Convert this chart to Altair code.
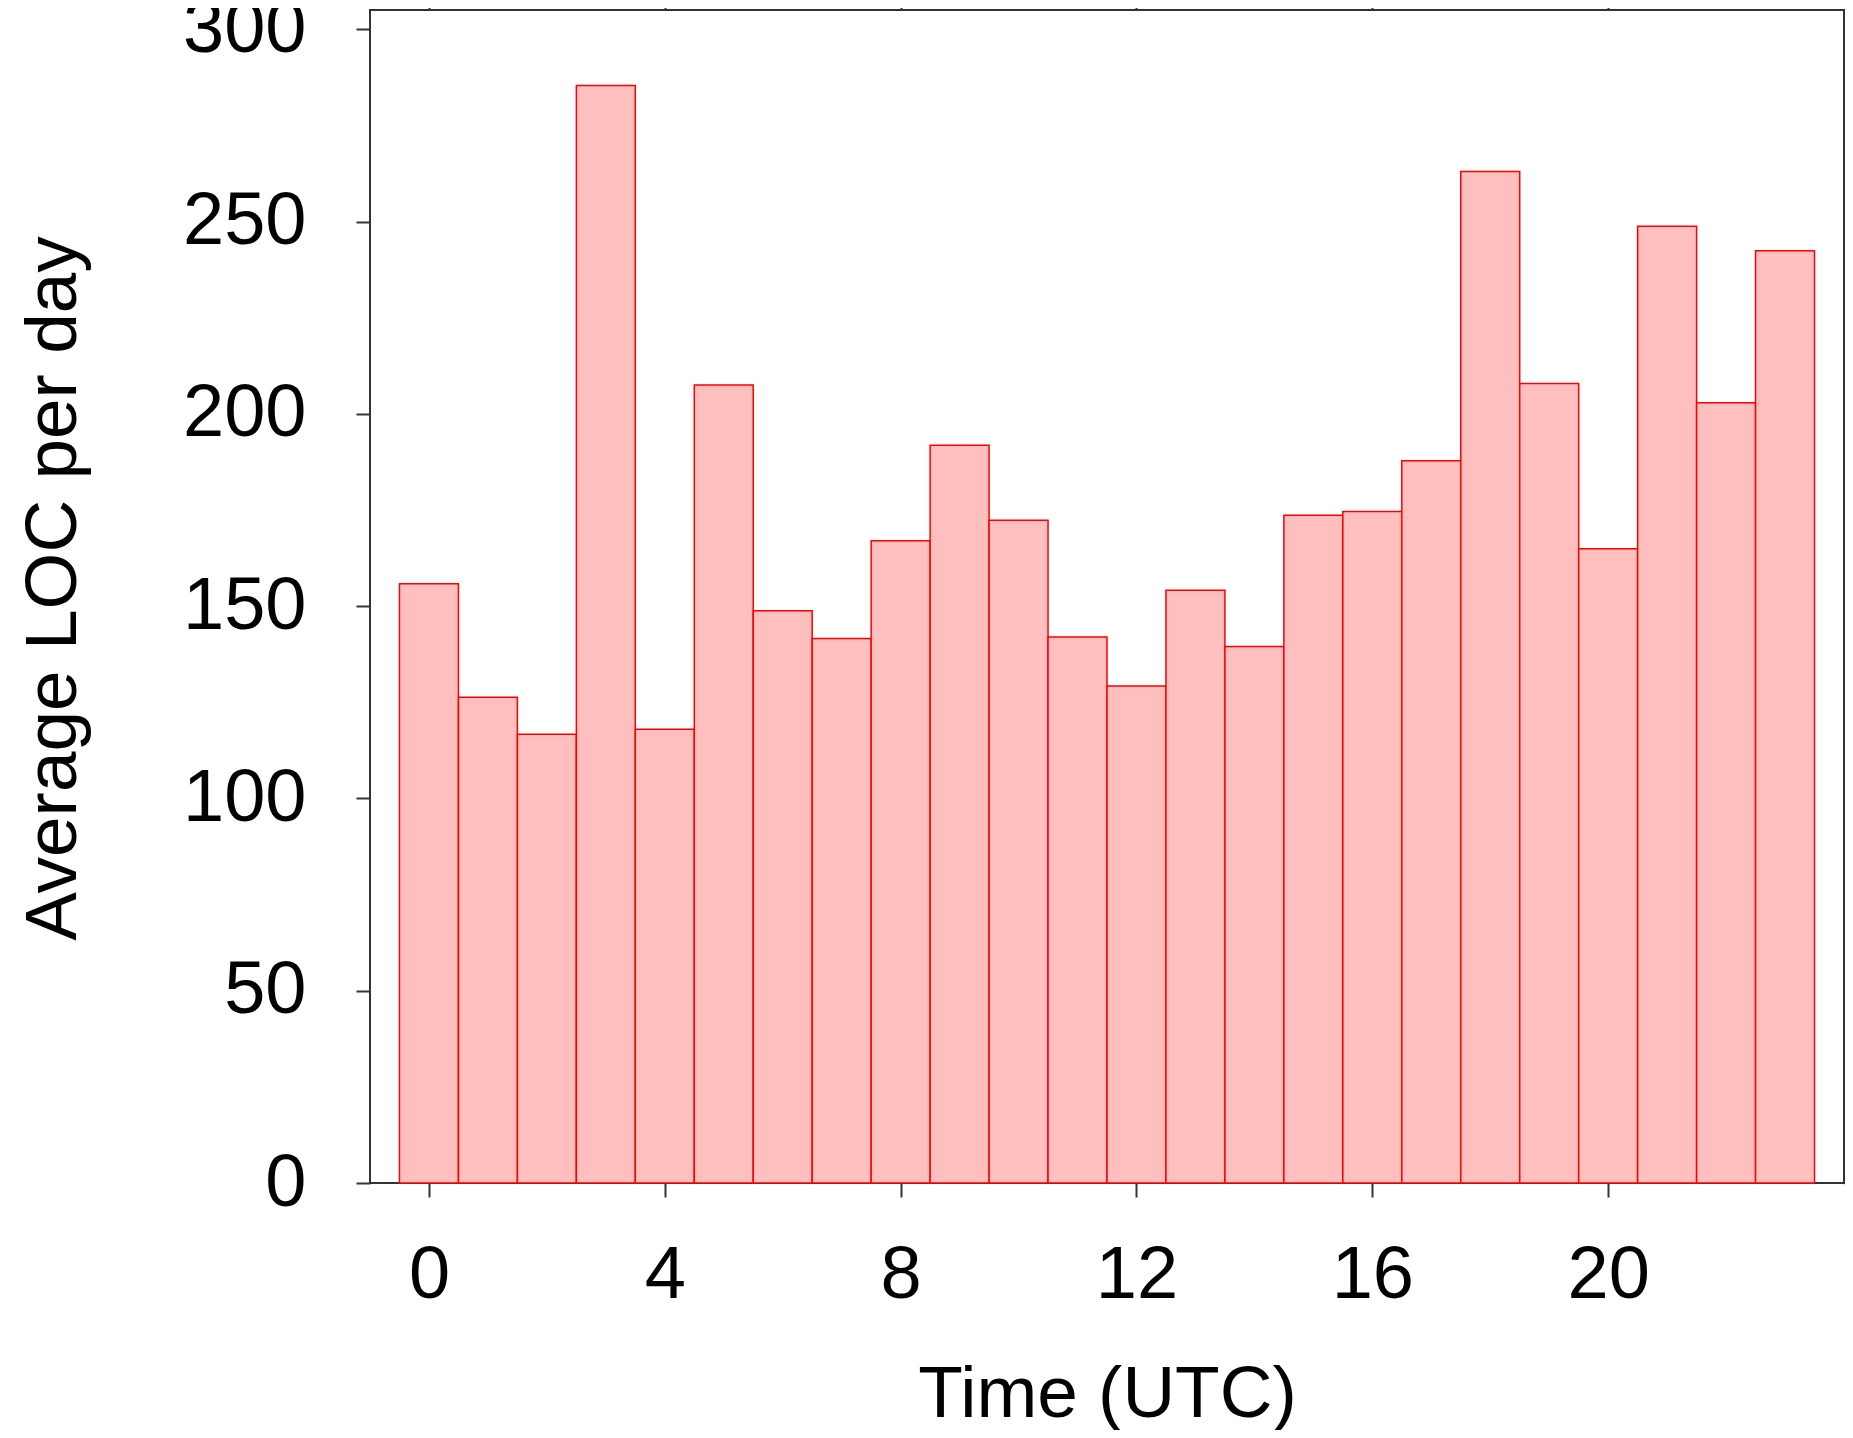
import altair as alt
import pandas as pd

hours = list(range(24))
loc_per_day = [155.8, 126.3, 116.7, 285.4, 118.0, 207.5, 148.8, 141.6,
               167.0, 191.8, 172.3, 142.0, 129.2, 154.1, 139.5, 173.6,
               174.6, 187.8, 263.0, 207.9, 164.9, 248.8, 202.9, 242.4]
x_ticks = [0, 4, 8, 12, 16, 20]
y_ticks = [0, 50, 100, 150, 200, 250, 300]

df = pd.DataFrame({"hour": hours, "loc": loc_per_day})

FONT = "Liberation Sans"
xscale = alt.Scale(domain=[-1, 24], nice=False, zero=False)
yscale = alt.Scale(domain=[0, 305], nice=False)

base = alt.Chart(df).transform_calculate(
    x0="datum.hour - 0.5", x1="datum.hour + 0.5"
)

bars = base.mark_bar(fill="#ffbfbf", stroke="#ff0000", strokeWidth=1.5).encode(
    x=alt.X("x0:Q", scale=xscale,
            axis=alt.Axis(orient="bottom", values=x_ticks, title="Time (UTC)",
                          labelPadding=42,
                          titleFontSize=73, titleFont=FONT, titleFontWeight="normal",
                          titleColor="black", titleBaseline="alphabetic",
                          titleY=233, titleX=737)),
    x2="x1:Q",
    y=alt.Y("loc:Q", scale=yscale,
            axis=alt.Axis(orient="left", values=y_ticks, title="Average LOC per day",
                          labelPadding=50,
                          titleFontSize=73, titleFont=FONT, titleFontWeight="normal",
                          titleColor="black", titleBaseline="alphabetic",
                          titleAngle=270, titleX=-295, titleY=578)),
    y2=alt.datum(0),
)

mirror = base.mark_bar(opacity=0).encode(
    x=alt.X("x0:Q", scale=xscale,
            axis=alt.Axis(orient="top", values=x_ticks, labels=False, title="")),
    x2="x1:Q",
    y=alt.Y("loc:Q", scale=yscale,
            axis=alt.Axis(orient="right", values=y_ticks, labels=False, title="")),
    y2=alt.datum(0),
)

chart = alt.layer(bars, mirror).resolve_axis(
    x="independent", y="independent"
).properties(
    width=1474, height=1173,
    autosize=alt.AutoSizeParams(type="none"),
    padding={"left": 362, "top": 2, "right": 1, "bottom": 247},
).configure_axis(
    labelFont=FONT, labelFontSize=74, labelColor="black",
    tickSize=14, tickWidth=2, tickColor="#333333",
    domain=False, grid=False,
).configure_view(
    stroke="#333333", strokeWidth=2,
)

chart.save("out.html", embed_options={"renderer": "svg", "actions": False})
